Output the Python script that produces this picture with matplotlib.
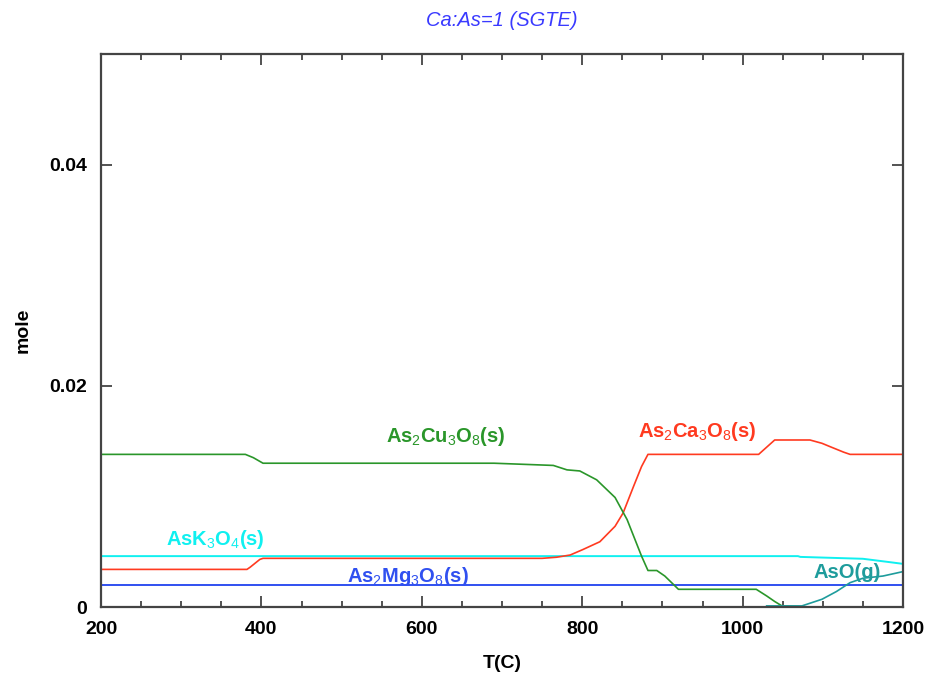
import matplotlib
matplotlib.use('Agg')
import matplotlib.pyplot as plt
from matplotlib.ticker import MultipleLocator
from matplotlib import font_manager

# narrow bold face if present, otherwise plain Liberation Sans
names = {f.name for f in font_manager.fontManager.ttflist}
FONT = 'Liberation Sans Narrow' if 'Liberation Sans Narrow' in names else 'Liberation Sans'

plt.rcParams['font.family'] = [FONT, 'DejaVu Sans']
plt.rcParams['mathtext.fontset'] = 'custom'
plt.rcParams['mathtext.rm'] = FONT
plt.rcParams['mathtext.it'] = FONT + ':italic'
plt.rcParams['mathtext.bf'] = FONT + ':bold'

# equilibrium amounts vs temperature (C)
cu_T = [200, 380, 390, 402, 690, 764, 781, 797, 818, 841, 856, 874, 882, 893, 903,
        920, 1009, 1017, 1030, 1040, 1049, 1074]
cu_n = [0.0138, 0.0138, 0.0135, 0.0130, 0.0130, 0.0128, 0.0124, 0.0123, 0.0115,
        0.0099, 0.0079, 0.0046, 0.0033, 0.0033, 0.0028, 0.0016, 0.0016, 0.0016,
        0.0010, 0.0005, 0.0001, 0.0]

ca_T = [200, 382, 386, 398, 402, 750, 768, 785, 801, 822, 841, 851, 864, 874, 882,
        1020, 1040, 1084, 1099, 1109, 1126, 1134, 1200]
ca_n = [0.0034, 0.0034, 0.0036, 0.0043, 0.0044, 0.0044, 0.0045, 0.0047, 0.0052,
        0.0059, 0.0073, 0.0085, 0.0109, 0.0127, 0.0138, 0.0138, 0.0151, 0.0151,
        0.0148, 0.0145, 0.0140, 0.0138, 0.0138]

k_T = [200, 1069, 1072, 1150, 1184, 1200]
k_n = [0.0046, 0.0046, 0.00453, 0.00436, 0.00405, 0.0039]

mg_T = [200, 1200]
mg_n = [0.0020, 0.0020]

aso_T = [1030, 1074, 1099, 1117, 1134, 1150, 1175, 1200]
aso_n = [0.0001, 0.0001, 0.0007, 0.0014, 0.0022, 0.0026, 0.0028, 0.0032]

GREEN = '#2a962a'
RED = '#ff3a20'
CYAN = '#10f0f0'
BLUE = '#3050f0'
TEAL = '#1e9c9c'

fig = plt.figure(figsize=(9.25, 6.73), dpi=100)
ax = fig.add_axes([101 / 925, 1 - 607 / 673, 802 / 925, 553 / 673])

ax.plot(k_T, k_n, color=CYAN, lw=1.4)
ax.plot(mg_T, mg_n, color=BLUE, lw=1.4)
ax.plot(ca_T, ca_n, color=RED, lw=1.2)
ax.plot(cu_T, cu_n, color=GREEN, lw=1.2)
ax.plot(aso_T, aso_n, color=TEAL, lw=1.2)

lab = dict(fontsize=14.5, fontweight='bold', ha='center', va='center')
ax.text(630, 0.0154, r'As$_2$Cu$_3$O$_8$(s)', color=GREEN, **lab)
ax.text(943, 0.0159, r'As$_2$Ca$_3$O$_8$(s)', color=RED, **lab)
ax.text(343, 0.0061, r'AsK$_3$O$_4$(s)', color=CYAN, **lab)
ax.text(583, 0.00276, r'As$_2$Mg$_3$O$_8$(s)', color=BLUE, **lab)
ax.text(1131, 0.0031, 'AsO(g)', color=TEAL, **lab)

ax.set_xlim(200, 1200)
ax.set_ylim(0, 0.05)
ax.xaxis.set_major_locator(MultipleLocator(200))
ax.xaxis.set_minor_locator(MultipleLocator(50))
ax.set_yticks([0, 0.02, 0.04])
ax.set_yticklabels(['0', '0.02', '0.04'])

for s in ax.spines.values():
    s.set_color('#444444')
    s.set_linewidth(1.6)
ax.tick_params(which='both', direction='in', top=True, right=True,
               color='#444444', width=1.3)
ax.tick_params(which='major', length=8, labelsize=14, pad=10)
ax.tick_params(which='minor', length=4)
for t in ax.get_xticklabels() + ax.get_yticklabels():
    t.set_fontweight('bold')

ax.set_xlabel('T(C)', fontsize=14, fontweight='bold', labelpad=12)
ax.set_ylabel('mole', fontsize=14, fontweight='bold', labelpad=13)
fig.suptitle('Ca:As=1 (SGTE)', x=(101 + 903) / 2 / 925, y=1 - 20 / 673,
             va='center', fontsize=14.5, style='italic', color='#3a3aff')

fig.savefig('out.png', dpi=100)
